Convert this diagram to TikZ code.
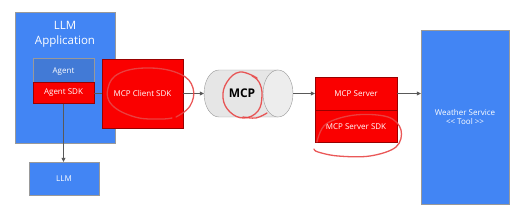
\documentclass[tikz,border=0pt]{standalone}
\usepackage{fontspec}
\setmainfont{Open Sans}
\usetikzlibrary{arrows.meta}
\definecolor{gblue}{RGB}{66,133,244}
\definecolor{gdblue}{RGB}{66,122,214}
\definecolor{gred}{RGB}{250,0,0}
\definecolor{ink}{RGB}{232,70,70}
\definecolor{cylgray}{RGB}{230,230,230}
\tikzset{
  bluebox/.style={draw=gray!80, fill=gblue, text=white, inner sep=0pt, font=\fontsize{8}{9}\selectfont},
  redbox/.style={draw=red!60!black, fill=gred, text=white, inner sep=0pt, font=\fontsize{8}{9}\selectfont},
  link/.style={draw=gray!70!black, line width=0.5pt},
  flow/.style={link, -{Triangle[length=4pt,width=4pt]}},
  scribble/.style={draw=ink, line width=1.3pt, opacity=0.9, line cap=round}
}
\begin{document}
\begin{tikzpicture}[x=1pt,y=-1pt]
  \useasboundingbox (0,0) rectangle (517,205);
  % left application block
  \node[bluebox, minimum width=100pt, minimum height=131pt] (app) at (65,77.5) {};
  \node[text=white, align=center, font=\fontsize{11.5}{15}\selectfont] (apptitle) at (65,34.5) {LLM\\Application};
  \node[bluebox, fill=gdblue, minimum width=61pt, minimum height=24pt, text depth=-3pt] (agent) at (63.5,70.5) {Agent};
  \node[redbox, minimum width=61pt, minimum height=21pt] (asdk) at (63.5,93) {Agent SDK};
  \node[bluebox, minimum width=70pt, minimum height=33pt] (llm) at (64,178.5) {LLM};
  \draw[link] (asdk.east) -- (115,93);
  \node[redbox, minimum width=81pt, minimum height=69pt] (client) at (142.5,93.5) {MCP Client SDK};
  \draw[flow] (asdk.south) -- (asdk.south |- llm.north);
  % protocol pipe
  \node[minimum width=89pt, minimum height=47pt, inner sep=0pt] (mcp) at (248.5,93.5) {};
  \fill[cylgray] (219,93.5) ellipse [x radius=15, y radius=23.5];
  \fill[cylgray] (219,70) rectangle (278,117);
  \draw[gray!80] (278,70) -- (219,70) arc [start angle=-90, end angle=-270, x radius=15, y radius=23.5] -- (278,117);
  \filldraw[fill=cylgray!70!white, draw=gray!80] (278,93.5) ellipse [x radius=15, y radius=23.5];
  \node[font=\bfseries\fontsize{12}{14}\selectfont] (mcplabel) at (242,93.5) {MCP};
  % server side
  \node[redbox, minimum width=82pt, minimum height=33pt] (srv) at (356,93.5) {MCP Server};
  \node[redbox, minimum width=82pt, minimum height=32pt, anchor=north] (ssdk) at (srv.south) {MCP Server SDK};
  \node[bluebox, align=center, minimum width=88pt, minimum height=174pt] (weather) at (465,117) {Weather Service\\{<}{<} Tool {>}{>}};
  \draw[flow] (client.east) -- (mcp.west);
  \draw[flow] (mcp.east) -- (srv.west);
  \draw[flow] (srv.east) -- (srv.east -| weather.west);
  % hand-drawn marks
  \draw[scribble] plot[smooth, tension=0.7] coordinates {(176,117) (190,106) (193,88) (180,74) (150,68) (120,73) (108,88) (112,105) (135,117) (160,119) (172,118)};
  \draw[scribble] plot[smooth, tension=0.7] coordinates {(257,78) (240,72) (227,82) (223,98) (230,112) (244,118) (258,111) (262,95) (259,82) (252,76)};
  \draw[scribble] plot[smooth, tension=0.6] coordinates {(243,117) (256,118) (267,113)};
  \draw[scribble] plot[smooth, tension=0.6] coordinates {(317,142) (326,124) (355,115) (388,117) (401,130) (396,147) (370,156) (338,156) (318,152) (314,149)};
\end{tikzpicture}
\end{document}
